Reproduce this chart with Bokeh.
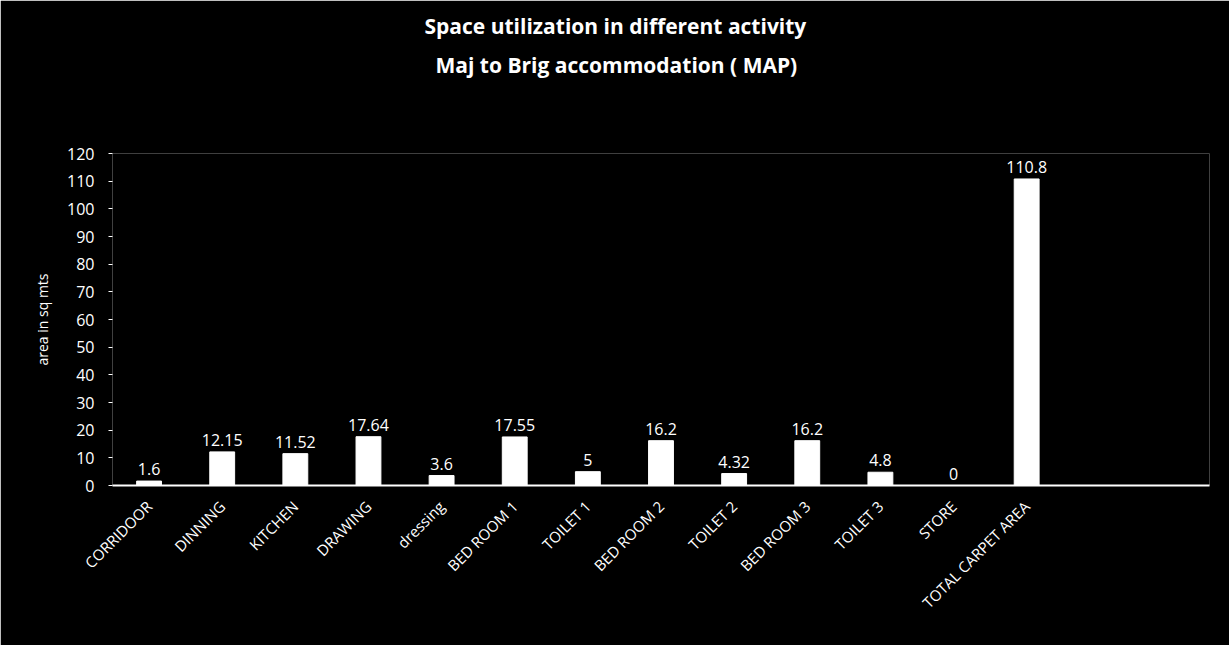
from bokeh.plotting import figure
from bokeh.models import Title, ColumnDataSource, Range1d, FactorRange, SingleIntervalTicker
from bokeh.core.properties import value
from bokeh.embed import file_html
from bokeh.resources import INLINE

categories = ["CORRIDOOR", "DINNING", "KITCHEN", "DRAWING", "dressing", "BED ROOM 1",
              "TOILET 1", "BED ROOM 2", "TOILET 2", "BED ROOM 3", "TOILET 3", "STORE",
              "TOTAL CARPET AREA"]
values = [1.6, 12.15, 11.52, 17.64, 3.6, 17.55, 5, 16.2, 4.32, 16.2, 4.8, 0, 110.8]
value_labels = ["1.6", "12.15", "11.52", "17.64", "3.6", "17.55", "5", "16.2", "4.32",
                "16.2", "4.8", "0", "110.8"]
empty_slots = [" ", "  "]
title_lines = ["Space utilization in different activity", "Maj to Brig accommodation ( MAP)"]
y_label = "area in sq mts"

FONT = "Open Sans"
W, H = 1229, 645
left, right, top, bottom = 112, 20, 153, 160
y_max = 120

p = figure(width=W, height=H, x_range=FactorRange(*(categories + empty_slots)),
           y_range=Range1d(0, y_max), output_backend="svg", toolbar_location=None,
           min_border_left=left, min_border_right=right, min_border_top=top,
           min_border_bottom=bottom)
p.background_fill_color = "black"
p.border_fill_color = "black"
p.outline_line_color = None
p.xgrid.grid_line_color = None
p.ygrid.grid_line_color = None
p.x_range.range_padding = 0

src = ColumnDataSource(dict(cat=categories, val=values, lab=value_labels))
p.vbar(x="cat", top="val", width=0.34, source=src, fill_color="white", line_color="white")
p.text(x="cat", y="val", text="lab", source=src, text_color="white", text_align="center",
       text_baseline="bottom", y_offset=-6, text_font_size="16px", text_font=value(FONT))

yax = p.yaxis[0]
yax.ticker = SingleIntervalTicker(interval=10)
yax.axis_line_color = None
yax.major_tick_line_color = "white"
yax.major_tick_in = 0
yax.major_tick_out = 4
yax.minor_tick_line_color = None
yax.major_label_text_color = "white"
yax.major_label_text_font = FONT
yax.major_label_text_font_size = "16px"
yax.major_label_standoff = 14
yax.axis_label = y_label
yax.axis_label_text_color = "white"
yax.axis_label_text_font = FONT
yax.axis_label_text_font_size = "14px"
yax.axis_label_text_font_style = "normal"
yax.axis_label_standoff = 12

xax = p.xaxis[0]
xax.axis_line_color = "white"
xax.axis_line_width = 2
xax.major_tick_line_color = None
xax.minor_tick_line_color = None
xax.major_label_orientation = 0.785398
xax.major_label_text_color = "white"
xax.major_label_text_font = FONT
xax.major_label_text_font_size = "15px"
xax.major_label_standoff = 12

# above panels stack outward from the frame: spacer, then line 2, then line 1
title_kw = dict(align="left", text_color="white", text_font=FONT,
                text_font_style="bold", text_font_size="21px")
p.add_layout(Title(text=" ", standoff=40, **title_kw), "above")
p.add_layout(Title(text=title_lines[1], standoff=9, offset=323, **title_kw), "above")
p.add_layout(Title(text=title_lines[0], standoff=9, offset=312, **title_kw), "above")

open("out.html", "w").write(file_html(p, INLINE))
